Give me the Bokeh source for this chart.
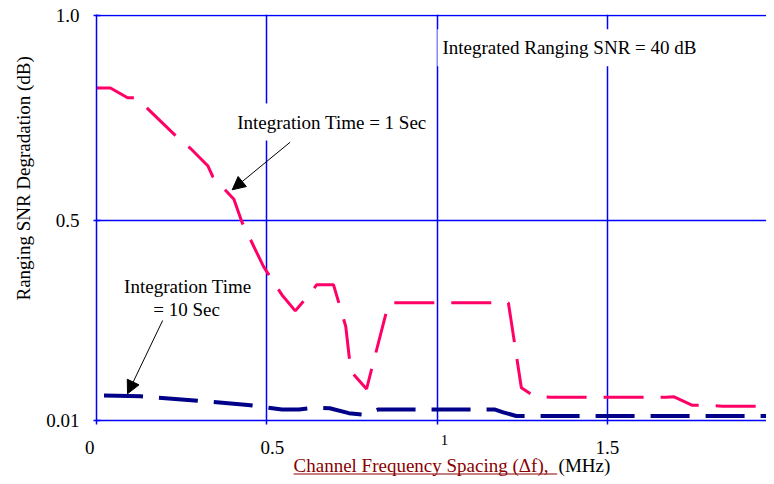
from bokeh.plotting import figure
from bokeh.layouts import column
from bokeh.models import (Range1d, FixedTicker, Label, Arrow, NormalHead,
                          BoxAnnotation, CustomJSTickFormatter, Title)
from bokeh.embed import file_html
from bokeh.resources import INLINE

# ---- data ----
x_ticks = [0, 0.5, 1, 1.5]
x_tick_labels = ["0", "0.5", "1", "1.5"]
y_ticks = [0.01, 0.5, 1.0]

t1_x = [0.0, 0.041, 0.091, 0.117, 0.246, 0.276, 0.327, 0.341, 0.403, 0.427, 0.446,
        0.490, 0.544, 0.583, 0.627, 0.646, 0.695, 0.731, 0.746, 0.792, 0.857,
        1.208, 1.246, 1.285, 1.333, 1.670, 1.694, 1.748, 1.787, 1.836, 2.0]
t1_y = [0.823, 0.823, 0.799, 0.799, 0.695, 0.675, 0.632, 0.606, 0.551, 0.494, 0.462,
        0.386, 0.317, 0.278, 0.321, 0.342, 0.342, 0.240, 0.130, 0.087, 0.298,
        0.298, 0.090, 0.069, 0.067, 0.067, 0.068, 0.047, 0.047, 0.045, 0.045]

t10_x = [0.022, 0.130, 0.287, 0.444, 0.544, 0.594, 0.640, 0.684, 0.740, 0.787,
         0.827, 1.167, 1.193, 1.231, 2.0]
t10_y = [0.071, 0.069, 0.059, 0.048, 0.037, 0.037, 0.041, 0.040, 0.028, 0.024,
         0.037, 0.037, 0.030, 0.021, 0.021]

FONT = "Liberation Serif"
BLUE = "#0000FF"
PINK = "#FF0066"
NAVY = "#000088"
DARKRED = "#8B0000"

X_END = 1.965
p = figure(width=766, height=432, output_backend="svg", toolbar_location=None,
           x_range=Range1d(0, X_END), y_range=Range1d(0.01, 1.0025),
           min_border_left=94, min_border_right=0, min_border_top=14,
           min_border_bottom=12)
p.outline_line_color = None
p.background_fill_color = "white"
p.border_fill_color = "white"

# grid
p.xgrid.ticker = FixedTicker(ticks=x_ticks)
p.ygrid.ticker = FixedTicker(ticks=y_ticks)
for g in (p.xgrid, p.ygrid):
    g.grid_line_color = BLUE
    g.grid_line_width = 1.5

# axes
p.xaxis.ticker = FixedTicker(ticks=x_ticks)
p.yaxis.ticker = FixedTicker(ticks=y_ticks)
p.xaxis.formatter = CustomJSTickFormatter(code="return '';")
p.yaxis.formatter = CustomJSTickFormatter(code="return tick == 1 ? '1.0' : tick.toString();")
for ax in (p.xaxis, p.yaxis):
    ax.axis_line_color = BLUE
    ax.axis_line_width = 1.5
    ax.major_tick_line_color = BLUE
    ax.major_tick_line_width = 1.5
    ax.minor_tick_line_color = None
    ax.major_label_text_font = FONT
    ax.major_label_text_color = "black"
p.yaxis.major_label_text_font_size = "19px"
p.xaxis.major_label_text_font_size = "1px"
p.xaxis.major_tick_in = 0
p.xaxis.major_tick_out = 4
p.xaxis.major_label_standoff = 0
p.yaxis.major_tick_in = 4
p.yaxis.major_tick_out = 3
p.yaxis.major_label_standoff = 14

# y axis title (starts low on the axis, reads upward)
p.add_layout(Title(text="Ranging SNR Degradation (dB)", align="left", offset=120,
                   standoff=20, text_font=FONT, text_font_size="19px",
                   text_font_style="normal", text_color="black"), "left")

# series
p.line(t1_x, t1_y, line_color=PINK, line_width=3, line_dash="40 17")
p.line(t10_x, t10_y, line_color=NAVY, line_width=4, line_dash="39 16")

# annotations
def lab(fig, x, y, text, align="left", color="black", size="19px", bg=None, **kw):
    l = Label(x=x, y=y, text=text, text_font=FONT, text_font_size=size,
              text_color=color, text_align=align, text_baseline="alphabetic", **kw)
    if bg:
        l.background_fill_color = bg
    fig.add_layout(l)
    return l

lab(p, 1.000, 0.9214, "Integrated Ranging SNR = 40 dB", bg="white", padding=(5, 8))
lab(p, 0.398, 0.7397, "Integration Time = 1 Sec", bg="white", padding=(5, 8))
lab(p, 0.268, 0.3382, "Integration Time", align="center")
lab(p, 0.264, 0.2810, "= 10 Sec", align="center")

p.add_layout(Arrow(x_start=0.568, y_start=0.6903, x_end=0.398, y_end=0.574,
                   line_color="black", line_width=1,
                   end=NormalHead(size=13, fill_color="black", line_color="black")))
p.add_layout(Arrow(x_start=0.194, y_start=0.2545, x_end=0.091, y_end=0.0753,
                   line_color="black", line_width=1,
                   end=NormalHead(size=13, fill_color="black", line_color="black")))

# strip below the chart: x tick labels and x axis title, on the same x scale
p2 = figure(width=766, height=44, output_backend="svg", toolbar_location=None,
            y_range=Range1d(0, 1),
            min_border_left=0, min_border_right=0, min_border_top=0,
            min_border_bottom=0, x_axis_location=None, y_axis_location=None)
if "frame_align" in p2.properties():
    p2.frame_align = False
    p2.x_range = Range1d(-94 / 342, X_END)
    zero_align = "right"
else:
    p2.x_range = p.x_range
    zero_align = "left"
p2.outline_line_color = None
p2.background_fill_color = "white"
p2.border_fill_color = "white"
for g in p2.grid:
    g.visible = False

for xt, txt in zip(x_ticks, x_tick_labels):
    if txt == "0":
        lab(p2, xt, 0.659, txt, align=zero_align)
    elif txt == "1":
        lab(p2, xt, 0.825, txt, align="center", size="15px", x_offset=8)
    elif txt == "0.5":
        lab(p2, xt, 0.659, txt, align="center", x_offset=7)
    else:
        lab(p2, xt, 0.659, txt, align="center")

lab(p2, 0.582, 0.261, "Channel Frequency Spacing (\u0394f), ", color=DARKRED)
lab(p2, 1.357, 0.261, "(MHz)")
p2.add_layout(BoxAnnotation(left=0.582, right=1.353, bottom=0.045, top=0.068,
                            fill_color=DARKRED, fill_alpha=1.0, line_color=None))

layout = column(p, p2, spacing=0)
open("out.html", "w").write(file_html(layout, INLINE))
